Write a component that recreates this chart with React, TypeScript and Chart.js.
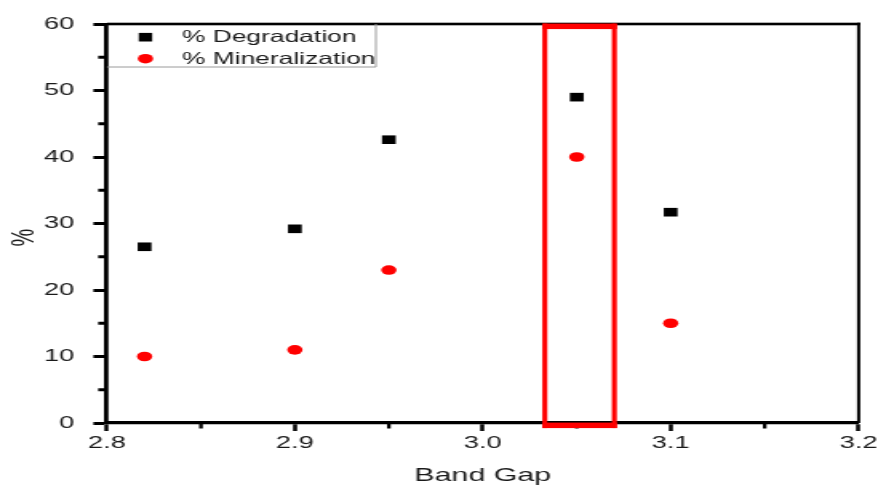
import React, { useEffect, useRef } from "react";
import { Chart, registerables } from "chart.js";

Chart.register(...registerables);

// ---- data ----
const BAND_GAP = [2.82, 2.9, 2.95, 3.05, 3.1];
const DEGRADATION = [26.5, 29.2, 42.6, 49.0, 31.7];
const MINERALIZATION = [10.0, 11.0, 23.0, 40.0, 15.0];
const X_TICKS = [2.8, 2.9, 3.0, 3.1, 3.2];
const X_MINOR = [2.85, 2.95, 3.05, 3.15];
const Y_TICKS = [0, 10, 20, 30, 40, 50, 60];
const Y_MINOR = [5, 15, 25, 35, 45, 55];
const SERIES_LABELS = ["% Degradation", "% Mineralization"];
const X_TITLE = "Band Gap";
const Y_TITLE = "%";
// highlighted band (data coordinates)
const HIGHLIGHT_X = [3.033, 3.07];
const HIGHLIGHT_Y = [-0.35, 59.65];

// ---- layout ----
const W = 878;
const H = 486;
const SX = 1.6; // the reference is horizontally stretched
const IW = Math.round(W / SX);
const FONT = "'Liberation Sans', Arial, Helvetica, sans-serif";
const TEXT = "#1a1a1a";

const decor = {
  id: "decor",
  afterDraw(chart: any) {
    const { ctx, chartArea: a, scales } = chart;
    const x = scales.x;
    const y = scales.y;
    ctx.save();
    // frame top & right
    ctx.fillStyle = "#000";
    ctx.fillRect(a.left, a.top - 1.3, a.right - a.left + 1, 2.6);
    ctx.fillRect(a.right - 1, a.top - 1.3, 2, a.bottom - a.top + 1.3);
    // minor ticks
    ctx.strokeStyle = "#000";
    ctx.lineWidth = 2.3;
    X_MINOR.forEach((v) => {
      const px = x.getPixelForValue(v);
      ctx.beginPath();
      ctx.moveTo(px, a.bottom);
      ctx.lineTo(px, a.bottom + 5.5);
      ctx.stroke();
    });
    ctx.lineWidth = 3;
    Y_MINOR.forEach((v) => {
      const py = y.getPixelForValue(v);
      ctx.beginPath();
      ctx.moveTo(a.left - 5.5, py);
      ctx.lineTo(a.left, py);
      ctx.stroke();
    });

    // legend
    const lx0 = a.left;
    const ly0 = a.top;
    const lx1 = 376 / SX;
    const ly1 = 67;
    ctx.strokeStyle = "#9a9a9a";
    ctx.lineWidth = 1;
    ctx.beginPath();
    ctx.moveTo(lx1, ly0);
    ctx.lineTo(lx1, ly1);
    ctx.lineTo(lx0, ly1);
    ctx.stroke();
    const mx = 145.5 / SX;
    const tx = 182 / SX;
    const rows = [37.2, 58.7];
    ctx.fillStyle = "#000";
    ctx.fillRect(mx - 4.2, rows[0] - 4.3, 8.4, 8.6);
    ctx.fillStyle = "#ff0000";
    ctx.beginPath();
    ctx.arc(mx, rows[1], 4.8, 0, Math.PI * 2);
    ctx.fill();
    ctx.fillStyle = TEXT;
    ctx.font = `16.5px ${FONT}`;
    ctx.textAlign = "left";
    ctx.textBaseline = "middle";
    ctx.fillText(SERIES_LABELS[0], tx, rows[0] + 0.5);
    ctx.fillText(SERIES_LABELS[1], tx, rows[1] + 0.5);

    // axis titles
    ctx.font = `19px ${FONT}`;
    ctx.textAlign = "center";
    ctx.textBaseline = "alphabetic";
    ctx.fillText(X_TITLE, (a.left + a.right) / 2, 481);
    ctx.save();
    ctx.translate(25 / SX, 237.5);
    ctx.rotate(-Math.PI / 2);
    ctx.font = `20px ${FONT}`;
    ctx.textBaseline = "middle";
    ctx.textAlign = "center";
    ctx.fillText(Y_TITLE, 0, 0);
    ctx.restore();

    // highlight rectangle
    const hx0 = x.getPixelForValue(HIGHLIGHT_X[0]);
    const hx1 = x.getPixelForValue(HIGHLIGHT_X[1]);
    const hy0 = y.getPixelForValue(HIGHLIGHT_Y[1]);
    const hy1 = y.getPixelForValue(HIGHLIGHT_Y[0]);
    const vw = 3.1;
    const hw = 5.5;
    ctx.fillStyle = "#ff0000";
    ctx.fillRect(hx0 - vw / 2, hy0 - hw / 2, hx1 - hx0 + vw, hw);
    ctx.fillRect(hx0 - vw / 2, hy1 - hw / 2, hx1 - hx0 + vw, hw);
    ctx.fillRect(hx0 - vw / 2, hy0 - hw / 2, vw, hy1 - hy0 + hw);
    ctx.fillRect(hx1 - vw / 2, hy0 - hw / 2, vw, hy1 - hy0 + hw);
    ctx.restore();
  },
};

export default function App() {
  const ref = useRef<HTMLCanvasElement>(null);
  useEffect(() => {
    const canvas = ref.current;
    if (!canvas) return;
    const chart = new Chart(canvas, {
      type: "scatter",
      data: {
        datasets: [
          {
            label: SERIES_LABELS[0],
            data: BAND_GAP.map((b, i) => ({ x: b, y: DEGRADATION[i] })),
            pointStyle: "rect",
            pointRadius: 6.1,
            backgroundColor: "#000",
            borderColor: "#000",
            borderWidth: 0,
            showLine: false,
          },
          {
            label: SERIES_LABELS[1],
            data: BAND_GAP.map((b, i) => ({ x: b, y: MINERALIZATION[i] })),
            pointStyle: "circle",
            pointRadius: 4.8,
            backgroundColor: "#ff0000",
            borderColor: "#ff0000",
            borderWidth: 0,
            showLine: false,
          },
        ],
      },
      options: {
        responsive: false,
        animation: false,
        events: [],
        layout: {
          padding: { left: 0, right: IW - 859 / SX, top: 24, bottom: 0 },
        },
        plugins: {
          legend: { display: false },
          tooltip: { enabled: false },
          title: { display: false },
        },
        scales: {
          x: {
            type: "linear",
            min: 2.8,
            max: 3.2,
            afterBuildTicks: (s: any) => {
              s.ticks = X_TICKS.map((v) => ({ value: v }));
            },
            afterFit: (s: any) => {
              s.height = 63;
              s.paddingLeft = 0;
              s.paddingRight = 0;
            },
            ticks: {
              autoSkip: false,
              maxRotation: 0,
              padding: 2,
              color: TEXT,
              font: { family: FONT, size: 17 },
              callback: (v: any) => Number(v).toFixed(1),
            },
            grid: {
              display: true,
              drawOnChartArea: false,
              drawTicks: true,
              tickLength: 8,
              tickWidth: 2.5,
              tickColor: "#000",
            },
            border: { display: true, color: "#000", width: 3.3 },
          },
          y: {
            type: "linear",
            min: 0,
            max: 60,
            afterBuildTicks: (s: any) => {
              s.ticks = Y_TICKS.map((v) => ({ value: v }));
            },
            afterFit: (s: any) => {
              s.width = 107 / SX;
            },
            ticks: {
              padding: 12,
              color: TEXT,
              font: { family: FONT, size: 17 },
              callback: (v: any) => String(v),
            },
            grid: {
              display: true,
              drawOnChartArea: false,
              drawTicks: true,
              tickLength: 8.5,
              tickWidth: 3,
              tickColor: "#000",
            },
            border: { display: true, color: "#000", width: 2.8 },
          },
        },
      },
      plugins: [decor],
    });
    return () => chart.destroy();
  }, []);
  return (
    <div
      style={{
        position: "fixed",
        left: 0,
        top: 0,
        width: W,
        height: H,
        background: "#fff",
      }}
    >
      <canvas
        ref={ref}
        width={IW}
        height={H}
        style={{ width: `${W}px`, height: `${H}px`, display: "block" }}
      />
    </div>
  );
}
